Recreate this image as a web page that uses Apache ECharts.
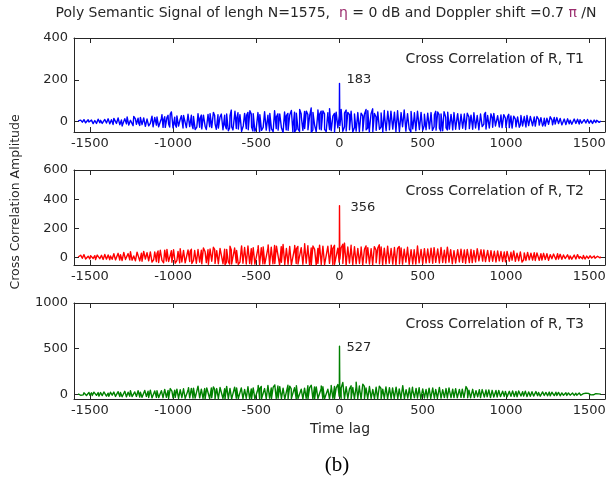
<!DOCTYPE html>
<html><head><meta charset="utf-8">
<script src="https://cdn.jsdelivr.net/npm/echarts@6/dist/echarts.min.js"></script>
<style>html,body{margin:0;padding:0;background:#fff}#c{width:608px;height:479px}</style>
</head><body><div id="c"></div>
<script>
// ---- data ----
// noise samples: "A" arrays run evenly over lags -1570..1570, "B" arrays over -1565..1565 (interleaved)
const lagSpanA = [-1570, 1570], lagSpanB = [-1565, 1565];
const xTickValues = [-1500, -1000, -500, 0, 500, 1000, 1500];
const yTickT1 = [0, 200, 400];
const yTickT2 = [0, 200, 400, 600];
const yTickT3 = [0, 500, 1000];
const yMinAll = -50;
const yMaxT1 = 400, yMaxT2 = 600, yMaxT3 = 1000;
const panelNames = ['Cross Correlation of R, T1', 'Cross Correlation of R, T2', 'Cross Correlation of R, T3'];

const noiseT1A = [
3,-5,6,-7,4,-8,9,-4,7,-10,5,-9,11,-6,8,-12,10,-7,13,-11,9,
-14,12,-9,17,-15,8,-18,14,-11,19,-16,10,-20,22,-13,16,-19,12,-21,25,-15,
18,-22,14,-25,20,-17,27,-24,15,-28,23,-19,30,-26,46,-30,21,-27,32,-22,28,
-31,25,-29,35,-24,30,-34,22,-36,38,-27,31,-33,26,-38,34,-25,40,-32,29,-37,
33,-28,36,-39,30,-35,41,-31,55,-40,34,-33,42,-37,28,-42,39,-34,44,-30,36,
-45,38,-32,43,-48,35,-36,47,-41,31,-46,40,-38,52,-34,37,-49,42,-35,46,-40,
39,-44,33,-50,45,-37,41,-47,36,-42,48,-39,34,-46,65,-41,38,-49,43,-36,50,
-44,37,-48,42,-38,55,-43,39,-50,46,-41,58,-47,40,-45,44,-39,49,-42,36,-46,
43,-38,47,-45,36,-40,52,-35,44,-48,39,-42,46,-37,41,-51,34,-44,49,-39,42,
-36,45,-41,38,-47,43,-33,50,-44,37,-40,48,-35,42,-46,39,-38,44,-42,35,-39,
40,-35,43,-38,33,-41,46,-32,37,-44,39,-30,45,-36,34,-40,42,-33,38,-37,35,
-32,36,-29,39,-34,31,-37,41,-28,35,-33,38,-30,34,-36,29,-31,37,-27,33,-30,
28,-26,32,-24,30,-28,25,-29,27,-23,31,-25,22,-27,29,-21,24,-26,20,-23,25,
-20,22,-18,24,-17,19,-21,16,-19,21,-15,18,-16,20,-14,17,-13,15,-16,12,-14,
13,-11,14,-10,12,-9,11,-12,8,-10,9,-7,10,-8,6,-9,7,-5,6,-4,3
];
const noiseT1B = [
4,7,-3,9,-6,-10,-2,5,11,-8,3,-4,12,6,-9,-11,7,-5,10,-3,8,
15,9,-12,18,-7,-21,-14,11,22,-17,6,-10,25,13,-19,-8,20,-15,17,-23,12,
-20,-9,26,-31,14,22,-25,-18,33,8,-28,19,-12,36,24,-30,-15,27,-22,11,30,
29,37,-20,42,-33,-14,25,-38,-27,40,16,-35,31,-22,-41,18,38,-29,44,-11,-36,
-31,22,45,-38,-17,36,-44,28,-25,-40,49,14,-36,33,-47,-21,41,30,-39,52,-26,
38,-46,-20,51,33,-42,-28,45,-50,17,39,-35,-48,55,23,-41,36,-30,-52,47,28,
-42,31,53,-25,-49,40,-36,58,21,-46,-33,50,-39,27,-51,44,-18,-47,56,35,-40,
51,-37,-49,30,62,-44,26,-52,45,-30,70,38,-47,-25,55,-42,33,49,-50,-28,44,
-39,-48,40,27,-45,58,-30,-52,36,61,-41,22,-49,46,-26,-38,53,31,-44,-21,50,
45,-33,-48,52,29,-40,-25,55,-46,38,-35,-50,42,24,-44,49,-28,-37,51,-20,36,
-36,44,30,-42,-25,49,-38,33,-45,-28,47,21,-40,52,-33,-19,43,-37,28,45,-30,
33,-26,-38,40,22,-34,-17,42,-31,29,-39,36,-24,-12,44,-28,31,-35,18,39,-21,
-24,30,-18,-29,33,16,-27,35,-20,-31,26,12,-25,31,-15,22,-28,-10,29,-19,24,
19,-14,-22,24,11,-18,20,-9,-21,16,-13,23,8,-17,-12,19,-10,15,-16,-7,13,
-9,12,7,-13,-6,10,-11,5,9,-8,-4,11,-7,6,-3,8,-5,-2,6,4,-2
];
const noiseT2A = [
5,-6,12,-4,15,-8,10,-9,18,-5,14,-11,20,-7,16,-12,22,-10,19,-14,24,
-13,26,-9,30,-16,22,-12,34,-18,28,-15,36,-20,25,-14,38,-22,31,-17,42,-19,
35,-24,44,-18,39,-27,46,-21,40,-30,52,-23,45,-28,48,-32,55,-25,43,-35,50,
-29,47,-36,53,-26,58,-33,49,-38,56,-30,51,-40,60,-34,54,-37,62,-31,57,-42,
55,-36,63,-41,58,-33,61,-44,52,-39,66,-35,59,-46,64,-38,70,-43,80,-40,62,
-45,75,-38,60,-48,68,-42,78,-36,65,-47,72,-41,83,-44,67,-49,76,-39,85,-46,
70,-43,80,-48,64,-40,77,-50,69,-45,74,-38,82,-47,66,-42,79,-49,63,-44,75,
-41,68,-48,78,-39,72,-46,85,-43,65,-47,60,-40,100,-45,70,-38,66,-44,75,-42,
64,-40,73,-46,58,-37,69,-43,62,-48,71,-35,66,-42,74,-39,60,-45,68,-36,63,
-44,70,-38,61,-42,67,-35,58,-40,72,-37,55,-43,64,-33,69,-39,57,-41,62,-36,
59,-34,65,-38,54,-31,60,-36,70,-33,52,-39,57,-30,63,-35,50,-37,55,-29,58,
-32,53,-27,49,-34,56,-25,51,-30,47,-28,54,-23,45,-31,50,-26,48,-24,44,-29,
46,-22,42,-26,39,-20,44,-24,37,-21,41,-18,35,-23,38,-17,33,-19,36,-15,31,
-16,34,-13,30,-18,28,-11,32,-14,26,-12,29,-10,24,-13,27,-9,22,-11,25,-8,
20,-10,23,-7,18,-9,21,-6,16,-8,19,-5,14,-7,15,-4,12,-5,10,-3,6
];
const noiseT2B = [
10,17,-4,21,-9,-12,6,14,22,-7,-13,18,25,-10,3,-14,19,-6,24,12,-11,
27,-15,-8,33,20,-19,36,-12,-23,30,41,-17,12,-21,38,25,-16,-24,43,-9,34,
-22,40,-30,-14,49,28,-33,51,-19,-35,44,57,-26,16,-31,54,-38,-20,48,61,-29,
50,-35,-23,58,43,-40,-18,62,-37,55,-28,-42,67,40,-33,-45,59,-24,71,-39,48,
-41,63,72,-36,-47,57,-29,78,-43,-38,66,49,-46,-30,81,-42,60,-48,74,-33,-44,
68,-44,-37,82,-49,61,74,-42,-35,88,-46,56,-48,-40,79,65,-45,-31,90,-47,63,
-45,77,-49,-38,84,60,-43,-50,72,-36,95,-47,66,-41,-48,80,58,-44,-39,86,-46,
79,-48,-42,70,-50,86,62,-45,-39,75,-47,68,92,-44,-49,73,-37,85,-46,-41,69,
-43,72,58,-49,-36,81,-45,67,-40,-48,76,53,-44,88,-33,-47,65,-42,79,-38,-45,
70,-41,-47,63,77,-36,-44,58,-30,71,-45,-38,66,54,-43,80,-35,-46,62,-40,59,
-37,61,-43,52,69,-32,-40,64,-27,58,-44,-35,72,-30,55,-41,48,-36,-26,63,-33,
52,-30,-38,57,44,-25,-34,49,-29,61,-22,-31,47,53,-27,-33,42,-24,50,-35,38,
-26,45,-31,38,-20,-28,43,34,-23,-17,46,-25,31,-21,39,-30,-14,35,-22,29,-18,
28,-14,-19,33,24,-10,-16,30,-12,27,-18,21,-8,25,29,-13,-9,23,-11,19,-6,
-7,19,12,-10,-4,17,-6,20,8,-3,15,-9,11,-5,13,-2,10,-4,7,9,-1
];
const noiseT3A = [
6,-10,12,-5,15,-12,9,-8,18,-14,11,-10,20,-15,16,-12,24,-18,14,-13,26,
-20,22,-16,30,-24,19,-18,34,-26,25,-20,38,-25,28,-22,40,-28,31,-26,44,-22,
35,-30,48,-27,38,-33,52,-29,41,-36,55,-31,44,-34,62,-37,47,-32,58,-40,50,
-36,60,-42,45,-38,66,-40,52,-44,90,-37,58,-43,64,-39,50,-45,70,-41,56,-46,
68,-40,55,-44,62,-42,75,-47,50,-43,80,-41,58,-48,72,-45,54,-42,84,-46,60,
-44,78,-48,56,-43,88,-46,64,-45,98,-41,70,-48,58,-44,92,-47,66,-42,85,-45,
100,-43,62,-48,74,-46,90,-44,57,-48,68,-42,95,-47,60,-45,82,-43,70,-48,65,
-46,80,-44,58,-48,72,-42,88,-47,66,-45,70,130,-48,84,-44,60,-46,76,-43,135,
-42,70,-47,112,-44,64,-48,86,-43,55,-46,78,-41,90,-45,58,-48,62,-42,74,-44,
68,-40,80,-45,56,-43,96,-47,52,-41,72,-44,50,-38,66,-46,48,-42,60,-39,54,
-43,62,-37,70,-41,48,-35,76,-40,52,-34,64,-38,46,-36,58,-33,44,-39,55,-32,
50,-31,86,-36,44,-29,56,-34,42,-27,52,-32,40,-28,48,-25,45,-30,38,-26,43,
-24,40,-28,36,-22,44,-26,34,-20,39,-23,32,-25,36,-18,30,-21,35,-16,28,-19,
27,-17,31,-14,24,-18,28,-12,22,-15,26,-11,21,-13,24,-10,19,-12,22,-9,18,
-10,17,-8,15,-11,13,-7,16,-9,12,-6,13,-8,10,-5,11,-4,9,-6,7,3
];
const noiseT3B = [
12,-9,-14,18,8,-16,22,-7,-12,25,15,-11,-18,20,-13,27,10,-17,-21,24,-8,
26,-22,-17,33,21,-26,-30,37,-19,28,42,-24,-29,34,-20,45,25,-31,-23,39,-27,
-33,46,-38,-26,55,40,-35,-41,60,-30,48,-37,-43,64,36,-39,-32,58,-44,51,-36,
62,-43,-38,74,-46,55,68,-41,-47,79,-39,60,-45,-48,71,58,-42,-36,82,-47,64,
-47,76,60,-44,-49,88,-45,66,-48,-42,94,70,-46,-50,81,-43,63,-49,86,-41,-47,
72,-48,-43,98,66,-47,-50,80,-44,91,-49,-45,76,104,-48,-42,85,-47,69,-50,-44,
-49,90,-45,-48,78,96,-46,-50,70,-43,88,-47,-49,75,100,-44,-48,82,-45,-46,92,
84,-47,-50,76,-44,97,-48,-45,71,108,-49,-42,86,-46,-50,79,-47,94,-43,-48,83,
-46,94,-49,-44,87,70,-47,-42,100,-48,76,-45,-50,89,65,-46,-43,82,-48,-47,78,
71,-44,-48,88,60,-46,-41,84,-47,66,-43,-49,79,57,-45,-40,74,-47,-42,68,-44,
-40,69,-44,-36,74,55,-42,-38,67,-34,61,-43,-39,72,50,-41,-35,63,-37,-42,57,
58,-34,-30,61,47,-36,-27,55,-33,49,-29,-35,53,42,-31,-26,50,-34,45,-28,-32,
-28,44,-24,-30,40,33,-26,-21,46,-27,35,-19,-25,38,30,-22,-18,36,-24,28,-20,
30,-18,-15,27,22,-19,-12,26,-17,21,-10,-16,24,18,-14,-11,22,-15,17,-9,-13,
-11,16,-8,-12,14,10,-9,-6,13,-10,9,-5,-8,11,7,-6,-4,9,-5,6,-2
];
const peakLags = [-2, -1, 0, 1, 2];
const peakT1 = [-25, 30, 183, 85, -20];
const peakT2 = [-30, 40, 356, 175, -10];
const peakT3 = [-20, 60, 527, 260, 30];

// ---- layout / style ----
const FONT = 'DejaVu Sans';
const TXT = '#262626';
const gridLeft = 74, gridRight = 3;
const gridTops = [38, 170, 303], gridHeights = [94, 95, 96];
const xMin = -1595, xMax = 1595;
const colors = ['#0000ff', '#ff0000', '#008000'];
const labelOffsets = [[7, -4], [11, 2], [7, 1.5]];

function place(arr, span, out) {
  const n = arr.length, step = (span[1] - span[0]) / (n - 1);
  arr.forEach((v, i) => {
    const x = span[0] + i * step;
    if (Math.abs(x) > 5) out.push([x, v]);
  });
}
function build(a, b, peak) {
  const pts = [];
  place(a, lagSpanA, pts);
  place(b, lagSpanB, pts);
  peakLags.forEach((l, i) => pts.push([l, peak[i]]));
  pts.sort((p, q) => p[0] - q[0]);
  return pts;
}

const noisesA = [noiseT1A, noiseT2A, noiseT3A];
const noisesB = [noiseT1B, noiseT2B, noiseT3B];
const peaks = [peakT1, peakT2, peakT3];
const yTicks = [yTickT1, yTickT2, yTickT3];
const yMaxs = [yMaxT1, yMaxT2, yMaxT3];

const grids = [], xAxes = [], yAxes = [], series = [];
const lineCommon = { show: true, onZero: false, lineStyle: { color: TXT, width: 1 } };
const labelCommon = { color: TXT, fontFamily: FONT, fontSize: 13 };
const plain = v => String(v);
for (let g = 0; g < 3; g++) {
  grids.push({ left: gridLeft, right: gridRight, top: gridTops[g], height: gridHeights[g], containLabel: false, outerBoundsMode: 'none' });
  const xBase = { gridIndex: g, type: 'value', min: xMin, max: xMax, splitLine: { show: false }, axisLine: lineCommon };
  xAxes.push(Object.assign({}, xBase, { position: 'bottom',
    axisTick: { show: true, inside: true, length: 5, customValues: xTickValues, lineStyle: { color: TXT } },
    axisLabel: Object.assign({ show: true, margin: 5, customValues: xTickValues, formatter: plain }, labelCommon) }));
  xAxes.push(Object.assign({}, xBase, { position: 'top',
    axisTick: { show: true, inside: true, length: 5, customValues: xTickValues, lineStyle: { color: TXT } },
    axisLabel: { show: false } }));
  const yBase = { gridIndex: g, type: 'value', min: yMinAll, max: yMaxs[g], splitLine: { show: false }, axisLine: lineCommon };
  yAxes.push(Object.assign({}, yBase, { position: 'left',
    axisTick: { show: true, inside: true, length: 5, customValues: yTicks[g], lineStyle: { color: TXT } },
    axisLabel: Object.assign({ show: true, margin: 6, customValues: yTicks[g], formatter: plain }, labelCommon) }));
  yAxes.push(Object.assign({}, yBase, { position: 'right',
    axisTick: { show: true, inside: true, length: 5, customValues: yTicks[g], lineStyle: { color: TXT } },
    axisLabel: { show: false } }));
  const pk = peaks[g][peakLags.indexOf(0)];
  series.push({
    type: 'line', xAxisIndex: g * 2, yAxisIndex: g * 2, data: build(noisesA[g], noisesB[g], peaks[g]),
    showSymbol: false, symbol: 'none', animation: false, silent: true, sampling: 'none',
    lineStyle: { color: colors[g], width: 1.4, join: 'round', cap: 'butt' }, itemStyle: { color: colors[g] },
    markPoint: {
      symbol: 'circle', symbolSize: 0, animation: false,
      data: [{ coord: [0, pk], value: pk }],
      label: Object.assign({ show: true, position: 'inside', align: 'left', verticalAlign: 'middle',
        offset: labelOffsets[g], formatter: p => String(p.value) }, labelCommon)
    }
  });
}

const F14 = '14px "' + FONT + '"';
const graphics = [
  { type: 'text', x: 326, y: 13, style: {
      text: 'Poly Semantic Signal of lengh N=1575,  {eta|η} = 0 dB and Doppler shift =0.7 {pi|π} /N',
      font: F14, fill: TXT, textAlign: 'center', textVerticalAlign: 'middle',
      rich: { eta: { fill: '#9b2d6e', font: F14 }, pi: { fill: '#9b2d6e', font: F14 } } } },
  { type: 'text', x: 16, y: 202, rotation: Math.PI / 2, style: {
      text: 'Cross Correlation Amplitude', font: '12.5px "' + FONT + '"', fill: TXT, textAlign: 'center', textVerticalAlign: 'middle' } },
  { type: 'text', x: 340, y: 429, style: {
      text: 'Time lag', font: F14, fill: TXT, textAlign: 'center', textVerticalAlign: 'middle' } },
  { type: 'text', x: 337, y: 465, style: {
      text: '(b)', font: '21px "Liberation Serif"', fill: '#000', textAlign: 'center', textVerticalAlign: 'middle' } }
];
for (let g = 0; g < 3; g++) {
  graphics.push({ type: 'text', x: 584, y: gridTops[g] + 21.5, style: {
    text: panelNames[g], font: F14, fill: TXT, textAlign: 'right', textVerticalAlign: 'middle' } });
}

const chart = echarts.init(document.getElementById('c'), null, { renderer: 'canvas' });
chart.setOption({
  animation: false,
  backgroundColor: '#fff',
  grid: grids, xAxis: xAxes, yAxis: yAxes, series: series,
  graphic: graphics
});
</script></body></html>
